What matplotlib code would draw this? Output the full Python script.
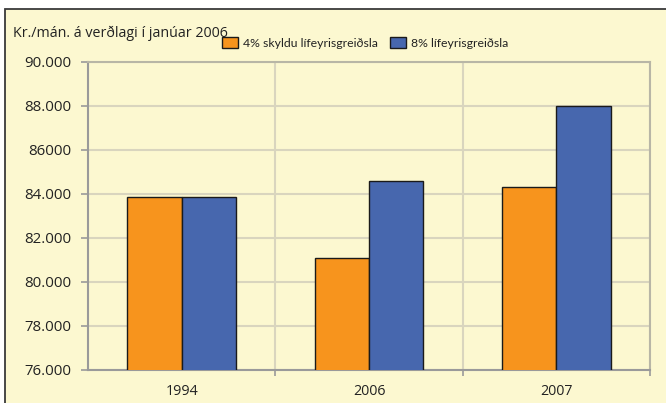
import matplotlib
matplotlib.use("Agg")
import matplotlib.pyplot as plt
from matplotlib.patches import Rectangle
import numpy as np

categories = ["1994", "2006", "2007"]
series_names = ["4% skyldu lífeyrisgreiðsla", "8% lífeyrisgreiðsla"]
values_4 = [83870, 81080, 84300]
values_8 = [83870, 84600, 88000]
y_ticks = [76000, 78000, 80000, 82000, 84000, 86000, 88000, 90000]
y_tick_labels = ["76.000", "78.000", "80.000", "82.000", "84.000", "86000", "88.000", "90.000"]
title = "Kr./mán. á verðlagi í janúar 2006"

plt.rcParams['font.family'] = ['Open Sans', 'DejaVu Sans']

bg = "#FCF8D0"
orange = "#F7941D"
blue = "#4767AE"
grid_c = "#D9D5BE"
axis_c = "#9A9A9A"

fig = plt.figure(figsize=(6.66, 4.03), dpi=100)
fig.patch.set_facecolor("white")
# framed cream panel
fig.patches.append(Rectangle((5/666, -0.05), 1.1, 1 - 9/403 + 0.05, transform=fig.transFigure,
                             facecolor=bg, edgecolor="#3a3a3a", linewidth=1.3, zorder=-10))

ax = fig.add_axes([88/666, 1 - 370/403, (650 - 88)/666, (370 - 62)/403])
ax.set_facecolor(bg)
ax.set_zorder(1)

x = np.arange(len(categories))
w = 0.29
ax.bar(x - w/2, values_4, w, color=orange, edgecolor="#1a1a1a", linewidth=1.0, zorder=3,
       label=series_names[0])
ax.bar(x + w/2, values_8, w, color=blue, edgecolor="#1a1a1a", linewidth=1.0, zorder=3,
       label=series_names[1])

ax.set_xlim(-0.5, len(categories) - 0.5)
ax.set_ylim(76000, 90000)
ax.set_yticks(y_ticks)
ax.set_yticklabels(y_tick_labels, fontsize=10.8, color="#222222")
ax.set_xticks(x)
ax.set_xticklabels(categories, fontsize=10.3, color="#222222")
ax.tick_params(axis='x', length=0, pad=10)
ax.set_xticks(np.arange(0.5, len(categories), 1), minor=True)
ax.tick_params(axis='x', which='minor', length=4, color=axis_c, width=1.2)
ax.tick_params(axis='y', length=5, color=axis_c, width=1.2, pad=7)

ax.yaxis.grid(True, color=grid_c, linewidth=1.5, zorder=0)
ax.xaxis.grid(True, which='minor', color=grid_c, linewidth=1.5, zorder=0)
ax.set_axisbelow(True)
for s in ["left", "bottom"]:
    ax.spines[s].set_color(axis_c)
    ax.spines[s].set_linewidth(1.5)
for s in ["top", "right"]:
    ax.spines[s].set_color("#B8B6A6")
    ax.spines[s].set_linewidth(1.5)

fig.text(13/666, 1 - 33/403, title, fontsize=10.3, color="#222222", va="center", ha="left")

leg = fig.legend(loc="center left", bbox_to_anchor=(211/666, 1 - 43/403), ncol=2, frameon=False,
                 prop={'family': ['Lato', 'DejaVu Sans'], 'size': 8.8}, handlelength=1.3,
                 handleheight=0.95, columnspacing=0.95, handletextpad=0.45, labelcolor="#222222")

fig.savefig("out.png", dpi=100, facecolor=fig.get_facecolor())
